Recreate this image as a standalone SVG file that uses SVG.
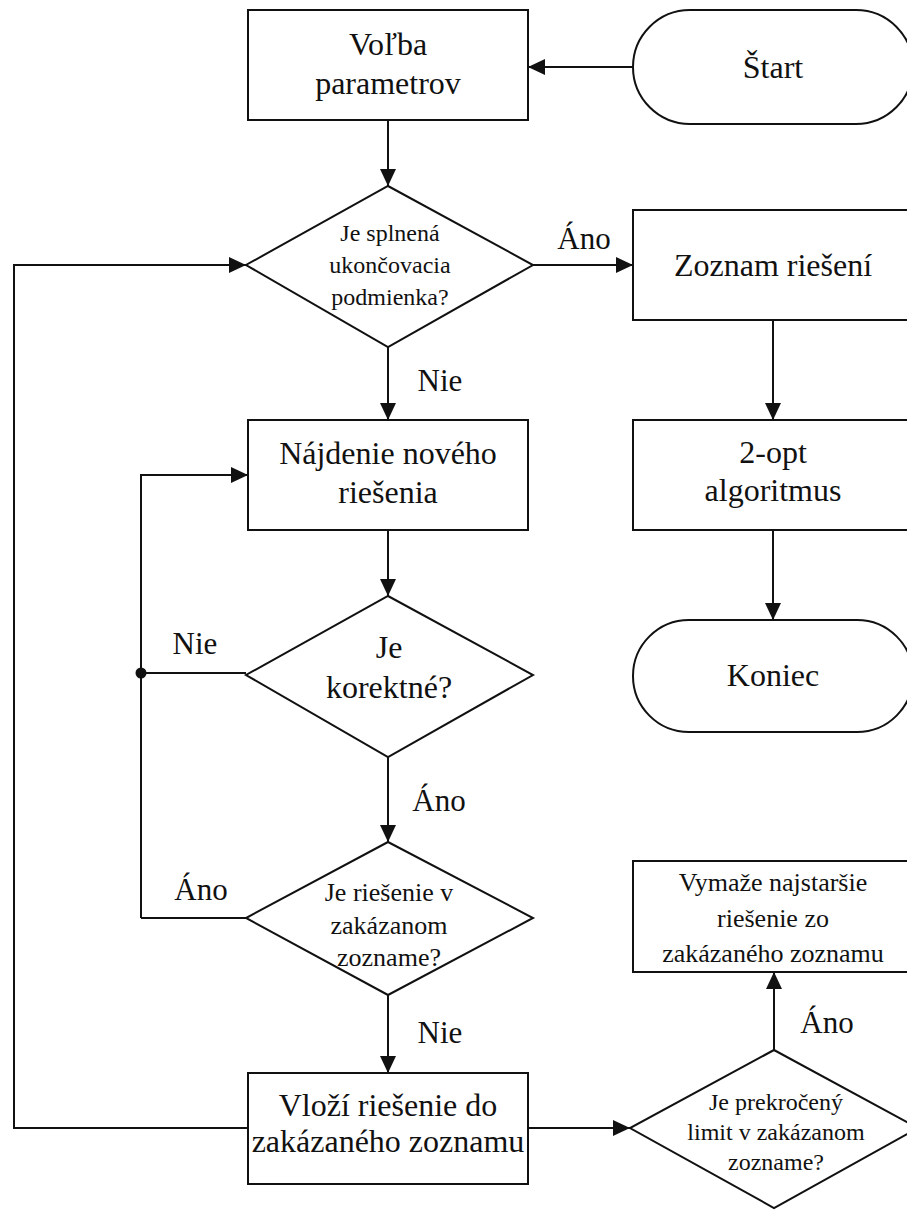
<svg xmlns="http://www.w3.org/2000/svg" width="907" height="1214" viewBox="0 0 907 1214">
<style>
.shape{fill:#fff;stroke:#111;stroke-width:2}
.edge{fill:none;stroke:#111;stroke-width:2}
text{fill:#111;text-anchor:middle}
.t32{font-size:32px}
.t30{font-size:31px}
.t26{font-size:26px}
.t24{font-size:24px}
</style>
<defs>
<marker id="arr" markerUnits="userSpaceOnUse" markerWidth="18" markerHeight="16" refX="17" refY="8" orient="auto">
<path d="M0,0 L17,8 L0,16 Z" fill="#111"/>
</marker>
</defs>
<g id="connectors">
<path class="edge" d="M633,67 L528,67" marker-end="url(#arr)"/>
<path class="edge" d="M388,120 L388,186" marker-end="url(#arr)"/>
<path class="edge" d="M533,265 L633,265" marker-end="url(#arr)"/>
<path class="edge" d="M773,320 L773,420" marker-end="url(#arr)"/>
<path class="edge" d="M773,530 L773,620" marker-end="url(#arr)"/>
<path class="edge" d="M388,347 L388,420" marker-end="url(#arr)"/>
<path class="edge" d="M388,530 L388,596" marker-end="url(#arr)"/>
<path class="edge" d="M246,673 L141,673"/>
<path class="edge" d="M141,918 L141,475 L248,475" marker-end="url(#arr)"/>
<path class="edge" d="M388,757 L388,842" marker-end="url(#arr)"/>
<path class="edge" d="M246,918 L141,918"/>
<path class="edge" d="M388,995 L388,1073" marker-end="url(#arr)"/>
<path class="edge" d="M248,1128 L14,1128 L14,265 L246,265" marker-end="url(#arr)"/>
<path class="edge" d="M528,1128 L630,1128" marker-end="url(#arr)"/>
<path class="edge" d="M774,1050 L774,972" marker-end="url(#arr)"/>
<circle cx="141" cy="673" r="5.5" fill="#111"/>
<text class="t30" x="584" y="249" font-family="Liberation Serif, serif">Áno</text>
<text class="t30" x="440" y="391" font-family="Liberation Serif, serif">Nie</text>
<text class="t30" x="195" y="654" font-family="Liberation Serif, serif">Nie</text>
<text class="t30" x="439" y="811" font-family="Liberation Serif, serif">Áno</text>
<text class="t30" x="201" y="900" font-family="Liberation Serif, serif">Áno</text>
<text class="t30" x="440" y="1043" font-family="Liberation Serif, serif">Nie</text>
<text class="t30" x="827" y="1033" font-family="Liberation Serif, serif">Áno</text>
</g>
<g id="start">
<rect class="shape" x="633" y="10" width="280" height="114" rx="57" ry="57"/>
<text class="t32" x="773" y="78" font-family="Liberation Serif, serif">Štart</text>
</g>
<g id="volba">
<rect class="shape" x="248" y="10" width="280" height="110"/>
<text class="t32" x="388" y="55" font-family="Liberation Serif, serif">Voľba</text>
<text class="t32" x="388" y="94" font-family="Liberation Serif, serif">parametrov</text>
</g>
<g id="cond-end">
<polygon class="shape" points="388,186 533,265 388,347 246,265"/>
<text class="t24" x="390" y="241" font-family="Liberation Serif, serif">Je splnená</text>
<text class="t24" x="390" y="273" font-family="Liberation Serif, serif">ukončovacia</text>
<text class="t24" x="390" y="305" font-family="Liberation Serif, serif">podmienka?</text>
</g>
<g id="zoznam">
<rect class="shape" x="633" y="210" width="280" height="110"/>
<text class="t32" x="773" y="276" font-family="Liberation Serif, serif">Zoznam riešení</text>
</g>
<g id="twoopt">
<rect class="shape" x="633" y="420" width="280" height="110"/>
<text class="t32" x="773" y="463" font-family="Liberation Serif, serif">2-opt</text>
<text class="t32" x="773" y="501" font-family="Liberation Serif, serif">algoritmus</text>
</g>
<g id="koniec">
<rect class="shape" x="633" y="620" width="280" height="112" rx="56" ry="56"/>
<text class="t32" x="773" y="686" font-family="Liberation Serif, serif">Koniec</text>
</g>
<g id="najdenie">
<rect class="shape" x="248" y="420" width="280" height="110"/>
<text class="t32" x="388" y="464" font-family="Liberation Serif, serif">Nájdenie nového</text>
<text class="t32" x="388" y="503" font-family="Liberation Serif, serif">riešenia</text>
</g>
<g id="korektne">
<polygon class="shape" points="388,596 533,675 388,757 246,675"/>
<text class="t32" x="389" y="658" font-family="Liberation Serif, serif">Je</text>
<text class="t32" x="389" y="698" font-family="Liberation Serif, serif">korektné?</text>
</g>
<g id="zakazany">
<polygon class="shape" points="388,842 533,918 388,995 246,918"/>
<text class="t26" x="389" y="901" font-family="Liberation Serif, serif">Je riešenie v</text>
<text class="t26" x="389" y="934" font-family="Liberation Serif, serif">zakázanom</text>
<text class="t26" x="389" y="966" font-family="Liberation Serif, serif">zozname?</text>
</g>
<g id="vlozi">
<rect class="shape" x="248" y="1073" width="280" height="111"/>
<text class="t32" x="388" y="1116" font-family="Liberation Serif, serif">Vloží riešenie do</text>
<text class="t32" x="388" y="1152" font-family="Liberation Serif, serif">zakázaného zoznamu</text>
</g>
<g id="limit">
<polygon class="shape" points="774,1050 918,1128 774,1208 630,1128"/>
<text class="t24" x="776" y="1110" font-family="Liberation Serif, serif">Je prekročený</text>
<text class="t24" x="776" y="1140" font-family="Liberation Serif, serif">limit v zakázanom</text>
<text class="t24" x="776" y="1170" font-family="Liberation Serif, serif">zozname?</text>
</g>
<g id="vymaze">
<rect class="shape" x="633" y="861" width="280" height="111"/>
<text class="t26" x="773" y="891" font-family="Liberation Serif, serif">Vymaže najstaršie</text>
<text class="t26" x="773" y="927" font-family="Liberation Serif, serif">riešenie zo</text>
<text class="t26" x="773" y="962" font-family="Liberation Serif, serif">zakázaného zoznamu</text>
</g>
</svg>
